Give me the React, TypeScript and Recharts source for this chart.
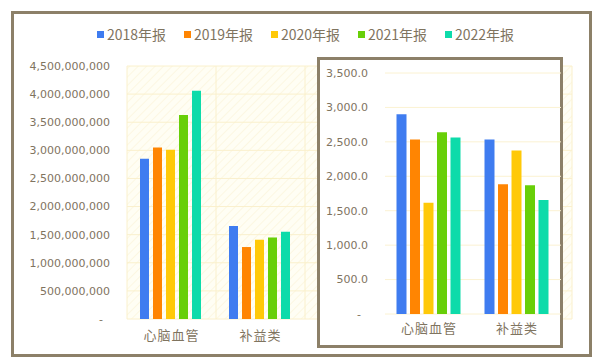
import React from 'react';
import { BarChart, Bar, XAxis, YAxis, CartesianGrid } from 'recharts';

const categories = ['心脑血管', '补益类'];
const seriesNames = ['2018年报', '2019年报', '2020年报', '2021年报', '2022年报'];
const seriesColors = ['#3F7CF0', '#FF8502', '#FFC908', '#68CF08', '#0EDBAA'];

// Left chart (revenue, yuan)
const rev2018 = [2850000000, 1655000000];
const rev2019 = [3050000000, 1280000000];
const rev2020 = [3010000000, 1410000000];
const rev2021 = [3630000000, 1450000000];
const rev2022 = [4060000000, 1550000000];
const leftTicks = [0, 500000000, 1000000000, 1500000000, 2000000000, 2500000000, 3000000000, 3500000000, 4000000000, 4500000000];

// Right chart
const val2018 = [2900, 2535];
const val2019 = [2535, 1885];
const val2020 = [1615, 2375];
const val2021 = [2640, 1870];
const val2022 = [2565, 1655];
const rightTicks = [0, 500, 1000, 1500, 2000, 2500, 3000, 3500];

const leftSeries = [rev2018, rev2019, rev2020, rev2021, rev2022];
const rightSeries = [val2018, val2019, val2020, val2021, val2022];

const keys = ['s0', 's1', 's2', 's3', 's4'];

const buildRows = (series: number[][]) =>
  categories.map((name, i) => {
    const row: Record<string, any> = { name };
    series.forEach((s, j) => {
      row[keys[j]] = s[i];
    });
    return row;
  });

const leftData = buildRows(leftSeries);
const rightData = buildRows(rightSeries);

const textColor = '#7F745F';
const frameColor = '#8C8068';
const tickFont = { fontFamily: '"DejaVu Sans", Verdana, sans-serif', fontSize: 11, fill: textColor };
const catFont = { fontFamily: '"Noto Sans CJK SC", sans-serif', fontSize: 13, fill: textColor, letterSpacing: 1 };

const fmtLeft = (v: number) => (v === 0 ? '-\u00a0\u00a0' : v.toLocaleString('en-US'));
const fmtRight = (v: number) =>
  v === 0 ? '-\u00a0\u00a0' : v.toLocaleString('en-US', { minimumFractionDigits: 1, maximumFractionDigits: 1 });

export default function App() {
  return (
    <div style={{ position: 'absolute', left: 0, top: 0, width: 600, height: 358, background: '#FFFFFF', overflow: 'hidden' }}>
      {/* outer frame */}
      <div
        style={{
          position: 'absolute',
          left: 11,
          top: 11,
          width: 581,
          height: 346,
          boxSizing: 'border-box',
          border: `3px solid ${frameColor}`,
          background: '#FFFFFF',
        }}
      />
      {/* legend */}
      <div
        style={{
          position: 'absolute',
          left: 97,
          top: 24,
          height: 20,
          display: 'flex',
          alignItems: 'center',
          fontFamily: '"Noto Sans CJK SC", sans-serif',
          fontSize: 14,
          color: textColor,
        }}
      >
        {seriesNames.map((n, i) => (
          <div key={n} style={{ display: 'flex', alignItems: 'center', width: 87 }}>
            <span style={{ display: 'inline-block', width: 7, height: 7, background: seriesColors[i], marginRight: 3 }} />
            <span>{n}</span>
          </div>
        ))}
      </div>
      {/* left chart */}
      <div style={{ position: 'absolute', left: 0, top: 0 }}>
        <BarChart
          width={600}
          height={358}
          data={leftData}
          margin={{ top: 66, right: 28, bottom: 9, left: 17 }}
          barCategoryGap={13}
          barGap={4}
        >
          <defs>
            <pattern id="hatch" width="6" height="6" patternUnits="userSpaceOnUse" patternTransform="rotate(45)">
              <rect width="6" height="6" fill="#FFFEF4" />
              <line x1="0" y1="0" x2="0" y2="6" stroke="#FCF7E2" strokeWidth="2" />
            </pattern>
          </defs>
          <CartesianGrid
            stroke="#FAF0CC"
            fill="url(#hatch)"
            fillOpacity={1}
            verticalCoordinatesGenerator={({ offset }: any) =>
              [0, 1, 2, 3, 4, 5].map((i) => offset.left + (i * offset.width) / 5)
            }
          />
          <XAxis
            dataKey="name"
            axisLine={false}
            tickLine={false}
            tickSize={0}
            tickMargin={12}
            height={30}
            padding={{ left: 0, right: 267 }}
            tick={catFont}
            interval={0}
          />
          <YAxis
            domain={[0, 4500000000]}
            ticks={leftTicks}
            tickFormatter={fmtLeft}
            axisLine={false}
            tickLine={false}
            tickSize={0}
            tickMargin={17}
            width={110}
            tick={tickFont}
            interval={0}
          />
          {keys.map((k, i) => (
            <Bar key={k} dataKey={k} name={seriesNames[i]} fill={seriesColors[i]} isAnimationActive={false} />
          ))}
        </BarChart>
      </div>
      {/* right box */}
      <div
        style={{
          position: 'absolute',
          left: 317,
          top: 57,
          width: 246,
          height: 291,
          boxSizing: 'border-box',
          border: `3px solid ${frameColor}`,
          background: '#FFFFFF',
        }}
      />
      <div style={{ position: 'absolute', left: 317, top: 57 }}>
        <BarChart
          width={246}
          height={291}
          data={rightData}
          margin={{ top: 16, right: 2, bottom: 8, left: 17 }}
          barCategoryGap={11.5}
          barGap={3.5}
        >
          <CartesianGrid stroke="#FBF2D2" vertical={false} />
          <XAxis
            dataKey="name"
            axisLine={false}
            tickLine={false}
            tickSize={0}
            tickMargin={10}
            height={26}
            tick={catFont}
            interval={0}
          />
          <YAxis
            domain={[0, 3500]}
            ticks={rightTicks}
            tickFormatter={fmtRight}
            axisLine={false}
            tickLine={false}
            tickSize={0}
            tickMargin={17}
            width={51}
            tick={tickFont}
            interval={0}
          />
          {keys.map((k, i) => (
            <Bar key={k} dataKey={k} name={seriesNames[i]} fill={seriesColors[i]} isAnimationActive={false} />
          ))}
        </BarChart>
      </div>
    </div>
  );
}
